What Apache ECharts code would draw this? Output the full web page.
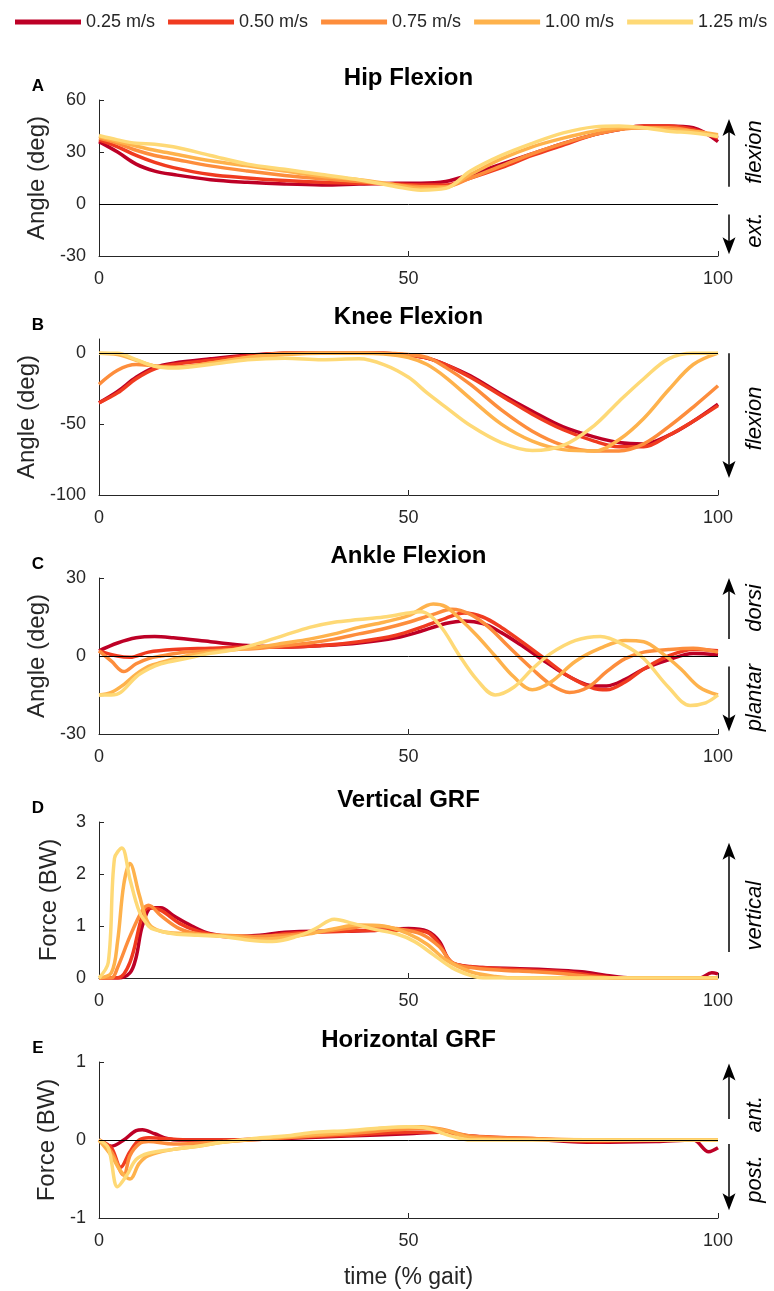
<!DOCTYPE html>
<html>
<head>
<meta charset="utf-8">
<script src="https://cdn.jsdelivr.net/npm/echarts@6/dist/echarts.min.js"></script>
<style>
  html, body { margin: 0; padding: 0; background: #fff; }
  #chart { width: 774px; height: 1291px; }
</style>
</head>
<body>
<div id="chart"></div>
<script>
// walking speeds and their colours
const speeds = ['0.25 m/s', '0.50 m/s', '0.75 m/s', '1.00 m/s', '1.25 m/s'];
const speedColors = ['#bd0026', '#f03b20', '#fd8d3c', '#feb24c', '#fed976'];
const gaitTicks = [0, 50, 100];

// A - hip flexion (deg), on a shared % gait grid
const hipPct = [0, 3, 6, 9, 12, 18, 24, 30, 36, 42, 48, 52, 56, 60, 65, 70, 75, 80, 84, 88, 92, 96, 100];
const hip025 = [36, 30, 23, 19, 17, 14, 12.5, 11.5, 11, 11.5, 12, 12, 13, 17, 23, 29, 35, 40, 43, 45, 45, 44, 36];
const hip050 = [37, 33, 28, 24, 21, 17, 15, 13.5, 12.5, 12, 11.5, 11, 11, 15, 21, 28, 34, 40, 43, 45, 45, 43, 38];
const hip075 = [38, 35, 31, 28, 26, 22, 19, 16.5, 14.5, 13, 11, 10, 10, 15, 22, 29, 35, 40, 43, 44, 44, 42, 39];
const hip100 = [39, 36, 33.5, 31, 29, 25, 22, 19, 16, 14, 11, 9, 9.5, 17, 26, 33, 38, 42, 44, 44, 43, 42, 40];
const hip125 = [39.5, 37, 35, 34.5, 33, 28, 23, 20, 17, 14, 10, 8, 9, 19, 28, 35, 41, 44.5, 45, 44, 42, 41, 39];

// B - knee flexion (deg)
const kneePct = [0, 3, 6, 9, 12, 18, 24, 30, 36, 42, 46, 50, 53, 56, 60, 65, 70, 75, 80, 84, 88, 92, 96, 100];
const knee025 = [-35, -27, -17, -10, -7, -4, -1.5, 0, 0, 0, 0, -1.5, -3.5, -8, -16, -29, -41, -52, -59, -63, -64, -58, -48, -36];
const knee050 = [-35, -28, -18, -11, -8, -5, -2, 0, 0, 0, 0, -1.5, -3.5, -8, -17, -30, -43, -54, -62, -66, -66, -58, -48, -37];
const knee075 = [-22, -12, -8, -9, -10, -7, -3, 0, 0, 0, 0, -1, -3, -10, -22, -40, -55, -65, -69, -69, -64, -52, -38, -23];
const knee100 = [0, -1, -5, -9, -10, -7, -3, -1, 0, 0, -0.5, -3, -8, -17, -32, -50, -62, -68, -69, -61, -46, -26, -8, 0];
const knee125 = [0, 0, -4.6, -9.3, -10.5, -8, -4.6, -3.5, -4.6, -4, -8, -17, -28, -38, -51, -63, -68.6, -65, -51, -34, -18, -4, 0, 0];

// C - ankle flexion (deg), [% gait, angle]
const ankle025 = [[0, 2], [3, 5], [6, 7], [9, 7.5], [12, 7], [18, 5.5], [24, 4], [30, 3.5], [36, 4], [42, 5], [48, 7], [52, 9.5], [56, 12.5], [59, 13.5], [62, 12.5], [65, 9], [68, 4.5], [72, -2], [76, -8], [80, -11.5], [82, -11.5], [85, -9], [88, -5], [92, -1.5], [96, 1], [100, 0.5]];
const ankle050 = [[0, 2], [3, 0], [5, -0.5], [8, 1.5], [12, 2.5], [18, 3], [24, 3.5], [30, 3.5], [36, 4], [42, 5.5], [48, 8], [52, 11], [56, 14.5], [59, 16.5], [62, 15], [65, 11], [68, 6], [72, -1], [76, -8], [80, -12.5], [82, -13], [85, -10], [88, -5], [92, 0], [96, 2.5], [100, 2]];
const ankle075 = [[0, 2], [2, -2], [4, -6], [6, -3], [8, -1], [10, 0], [14, 1.5], [18, 2], [22, 2.5], [26, 3], [30, 4], [34, 5], [38, 6.5], [42, 8.5], [46, 10.5], [50, 13], [54, 16], [57, 18], [60, 16], [63, 11], [66, 4], [70, -5], [73, -11], [76, -14], [79, -12], [82, -6], [85, -1], [88, 1.5], [92, 2.5], [96, 3], [100, 1.5]];
const ankle100 = [[0, -15], [2, -14], [4, -11], [6, -7], [8, -4], [10, -2.5], [14, 0], [18, 1.5], [22, 2.5], [26, 3.5], [30, 5], [34, 6.5], [38, 8.5], [42, 11], [46, 13], [50, 15.5], [54, 20], [56, 19], [58, 15], [61, 8], [64, 0], [67, -8], [70, -13], [73, -10], [77, -2], [81, 3], [85, 6], [88, 5.5], [91, 1], [94, -5], [97, -12], [100, -15]];
const ankle125 = [[0, -15], [2, -15], [3.5, -14], [6, -8], [8, -5], [10, -3], [14, -1], [18, 1], [22, 2.5], [26, 5], [30, 8], [34, 11], [38, 13], [42, 14], [46, 15], [50, 16.5], [52, 17], [55, 12], [58, 1], [61, -9], [64, -15], [67, -12], [70, -5], [73, 1], [77, 6], [81, 7.5], [85, 4], [88, -1], [92, -12], [95.5, -19], [98, -18], [100, -15]];

// D - vertical GRF (BW)
const vgrf025 = [[0, 0], [3, 0], [5, 0.1], [6, 0.4], [7, 1.0], [8.5, 1.35], [10, 1.35], [12, 1.2], [15, 1.0], [18, 0.85], [22, 0.8], [26, 0.82], [30, 0.88], [35, 0.9], [40, 0.9], [45, 0.92], [50, 0.95], [53, 0.9], [55, 0.7], [56.5, 0.35], [58, 0.25], [62, 0.2], [68, 0.18], [74, 0.15], [78, 0.12], [82, 0.05], [86, 0], [97, 0], [99, 0.1], [100, 0.08]];
const vgrf050 = [[0, 0], [3, 0], [5, 0.3], [7, 1.2], [8, 1.35], [10, 1.3], [13, 1.05], [16, 0.9], [20, 0.8], [25, 0.78], [30, 0.85], [35, 0.88], [40, 0.9], [45, 0.92], [50, 0.92], [53, 0.88], [55, 0.65], [57, 0.3], [60, 0.22], [65, 0.18], [70, 0.15], [75, 0.12], [80, 0.05], [84, 0], [100, 0]];
const vgrf075 = [[0, 0], [2, 0], [3, 0.2], [5, 0.8], [7, 1.3], [8, 1.4], [10, 1.2], [13, 0.95], [16, 0.85], [20, 0.82], [25, 0.8], [30, 0.82], [35, 0.88], [40, 0.95], [44, 1.0], [48, 0.95], [52, 0.85], [55, 0.6], [57, 0.3], [60, 0.2], [65, 0.15], [70, 0.12], [75, 0.08], [80, 0.02], [85, 0], [100, 0]];
const vgrf100 = [[0, 0], [2, 0.1], [3, 0.7], [4, 1.8], [5, 2.2], [6.5, 1.6], [8, 1.05], [10, 0.9], [14, 0.85], [18, 0.82], [22, 0.8], [26, 0.75], [30, 0.78], [34, 0.85], [38, 0.95], [42, 1.02], [46, 1.0], [50, 0.85], [53, 0.65], [56, 0.35], [60, 0.12], [64, 0.03], [68, 0], [100, 0]];
const vgrf125 = [[0, 0], [1.5, 0.3], [2.5, 2.3], [3.7, 2.5], [5, 1.9], [6.5, 1.28], [8, 1.0], [9, 0.93], [12, 0.85], [16, 0.82], [20, 0.8], [24, 0.73], [28, 0.7], [32, 0.8], [35, 0.95], [38, 1.13], [41, 1.05], [44, 0.95], [48, 0.85], [51, 0.7], [54, 0.45], [57, 0.2], [60, 0.05], [62, 0], [100, 0]];

// E - horizontal GRF (BW)
const hgrf025 = [[0, 0], [2, -0.08], [4, 0], [6, 0.12], [7, 0.13], [9, 0.08], [11, 0.02], [13, 0], [20, 0], [30, 0.02], [40, 0.05], [50, 0.08], [55, 0.1], [60, 0.05], [65, 0.02], [70, 0.01], [80, -0.03], [90, -0.02], [96, 0], [98.5, -0.15], [100, -0.1]];
const hgrf050 = [[0, 0], [2, -0.1], [3.5, -0.35], [5, -0.15], [6.5, 0], [8, 0.03], [10, 0.02], [15, 0], [20, 0], [30, 0.03], [40, 0.06], [50, 0.1], [55, 0.1], [60, 0.05], [70, 0.02], [80, -0.02], [90, 0], [100, 0]];
const hgrf075 = [[0, 0], [2, -0.15], [4, -0.45], [5, -0.2], [6.5, -0.05], [8, -0.02], [12, -0.05], [20, -0.02], [30, 0.03], [40, 0.08], [48, 0.13], [54, 0.15], [60, 0.05], [70, 0.02], [80, 0], [90, 0], [100, 0]];
const hgrf100 = [[0, 0], [2, -0.2], [3.5, -0.4], [5, -0.5], [6.5, -0.3], [8, -0.2], [12, -0.12], [16, -0.08], [20, -0.03], [30, 0.04], [40, 0.1], [46, 0.15], [52, 0.17], [56, 0.12], [60, 0.03], [65, 0.01], [100, 0]];
const hgrf125 = [[0, 0], [1.5, -0.1], [3, -0.6], [4.5, -0.45], [6, -0.25], [8, -0.17], [12, -0.12], [16, -0.08], [20, -0.03], [25, 0.02], [30, 0.05], [35, 0.1], [40, 0.12], [45, 0.15], [50, 0.17], [53, 0.15], [57, 0.05], [60, 0], [100, 0]];

const zip = (xs, ys) => xs.map((x, i) => [x, ys[i]]);

// panel definitions
const panels = [
  { letter: 'A', title: 'Hip Flexion', yName: 'Angle (deg)', min: -30, max: 60, ticks: [-30, 0, 30, 60], zero: true, nameGap: 50,
    data: [hip025, hip050, hip075, hip100, hip125].map(v => zip(hipPct, v)) },
  { letter: 'B', title: 'Knee Flexion', yName: 'Angle (deg)', min: -100, max: 10, ticks: [-100, -50, 0], zero: true, nameGap: 56,
    data: [knee025, knee050, knee075, knee100, knee125].map(v => zip(kneePct, v)) },
  { letter: 'C', title: 'Ankle Flexion', yName: 'Angle (deg)', min: -30, max: 30, ticks: [-30, 0, 30], zero: true, nameGap: 50,
    data: [ankle025, ankle050, ankle075, ankle100, ankle125] },
  { letter: 'D', title: 'Vertical GRF', yName: 'Force (BW)', min: 0, max: 3, ticks: [0, 1, 2, 3], zero: false, nameGap: 38,
    data: [vgrf025, vgrf050, vgrf075, vgrf100, vgrf125] },
  { letter: 'E', title: 'Horizontal GRF', yName: 'Force (BW)', min: -1, max: 1, ticks: [-1, 0, 1], zero: true, nameGap: 36,
    data: [hgrf025, hgrf050, hgrf075, hgrf100, hgrf125] }
];

// side arrows with direction words (values in each panel's y units)
const arrowNotes = [
  { panel: 0, from: 10, to: 49, label: 'flexion', at: 30 },
  { panel: 0, from: -6, to: -29, label: 'ext.', at: -15 },
  { panel: 1, from: 0, to: -88, label: 'flexion', at: -46 },
  { panel: 2, from: 6.5, to: 30, label: 'dorsi', at: 18.5 },
  { panel: 2, from: -4, to: -29, label: 'plantar', at: -16 },
  { panel: 3, from: 0.5, to: 2.6, label: 'vertical', at: 1.2 },
  { panel: 4, from: 0.27, to: 0.98, label: 'ant.', at: 0.33 },
  { panel: 4, from: -0.05, to: -0.9, label: 'post.', at: -0.5 }
];

const font = '"Liberation Sans", Arial, sans-serif';
const axisColor = '#262626';
const gridTops = [100, 339, 578, 822, 1062];
const gridHeight = 156;

const chart = echarts.init(document.getElementById('chart'));

const series = [];
panels.forEach((p, i) => {
  p.data.forEach((d, k) => {
    const s = {
      name: speeds[k],
      type: 'line',
      xAxisIndex: i,
      yAxisIndex: i,
      data: d,
      symbol: 'none',
      smooth: 0.35,
      lineStyle: { width: 3.5, color: speedColors[k] },
      itemStyle: { color: speedColors[k] },
      emphasis: { disabled: true }
    };
    if (k === 0 && p.zero) {
      s.markLine = {
        silent: true,
        symbol: 'none',
        label: { show: false },
        lineStyle: { color: '#000', width: 1, type: 'solid' },
        data: [{ yAxis: 0 }]
      };
    }
    series.push(s);
  });
});

const option = {
  animation: false,
  textStyle: { fontFamily: font },
  legend: {
    top: 8,
    left: 10,
    icon: 'rect',
    itemWidth: 66,
    itemHeight: 5,
    itemGap: 13,
    textStyle: { fontSize: 18, color: axisColor },
    data: speeds
  },
  grid: panels.map((p, i) => ({ left: 99, right: 56, top: gridTops[i], height: gridHeight })),
  xAxis: panels.map((p, i) => ({
    gridIndex: i,
    type: 'value',
    min: 0,
    max: 100,
    name: i === 4 ? 'time (% gait)' : '',
    nameLocation: 'middle',
    nameGap: 48,
    nameTextStyle: { fontSize: 23, color: axisColor },
    axisLine: { onZero: false, lineStyle: { color: axisColor, width: 1 } },
    axisTick: { inside: true, length: 5, customValues: gaitTicks, lineStyle: { color: axisColor } },
    axisLabel: { customValues: gaitTicks, fontSize: 18, color: axisColor, margin: 14 },
    splitLine: { show: false }
  })),
  yAxis: panels.map((p, i) => ({
    gridIndex: i,
    type: 'value',
    min: p.min,
    max: p.max,
    name: p.yName,
    nameLocation: 'middle',
    nameGap: p.nameGap,
    nameTextStyle: { fontSize: 24, color: axisColor },
    axisLine: { show: true, onZero: false, lineStyle: { color: axisColor, width: 1 } },
    axisTick: { show: true, inside: true, length: 5, customValues: p.ticks, lineStyle: { color: axisColor } },
    axisLabel: { customValues: p.ticks, fontSize: 18, color: axisColor, margin: 13 },
    splitLine: { show: false }
  })),
  series: series
};

chart.setOption(option);

// titles, panel letters and the direction arrows
const elements = [];
panels.forEach((p, i) => {
  const top = gridTops[i];
  elements.push({
    type: 'text', x: 408.5, y: top - 22,
    style: { text: p.title, font: 'bold 24px ' + font, fill: '#000',
      align: 'center', verticalAlign: 'middle', textAlign: 'center', textVerticalAlign: 'middle' }
  });
  elements.push({
    type: 'text', x: 38, y: top - 14,
    style: { text: p.letter, font: 'bold 17px ' + font, fill: '#000',
      align: 'center', verticalAlign: 'middle', textAlign: 'center', textVerticalAlign: 'middle' }
  });
});

arrowNotes.forEach(n => {
  const a = chart.convertToPixel({ gridIndex: n.panel }, [100, n.from]);
  const b = chart.convertToPixel({ gridIndex: n.panel }, [100, n.to]);
  const t = chart.convertToPixel({ gridIndex: n.panel }, [100, n.at]);
  const ax = a[0] + 11;
  const dir = b[1] < a[1] ? 1 : -1; // 1: arrow points up
  const head = 17;
  elements.push({
    type: 'line',
    shape: { x1: ax, y1: a[1], x2: ax, y2: b[1] + dir * 10 },
    style: { stroke: '#000', lineWidth: 1.5 }
  });
  elements.push({
    type: 'polygon',
    shape: { points: [[ax, b[1]], [ax - 6.5, b[1] + dir * head], [ax, b[1] + dir * (head - 4)], [ax + 6.5, b[1] + dir * head]] },
    style: { fill: '#000' }
  });
  elements.push({
    type: 'text', x: ax + 26, y: t[1], rotation: Math.PI / 2,
    style: { text: n.label, font: 'italic 22px ' + font, fill: '#000',
      align: 'center', verticalAlign: 'middle', textAlign: 'center', textVerticalAlign: 'middle' }
  });
});

chart.setOption({ graphic: { elements: elements } });
</script>
</body>
</html>
